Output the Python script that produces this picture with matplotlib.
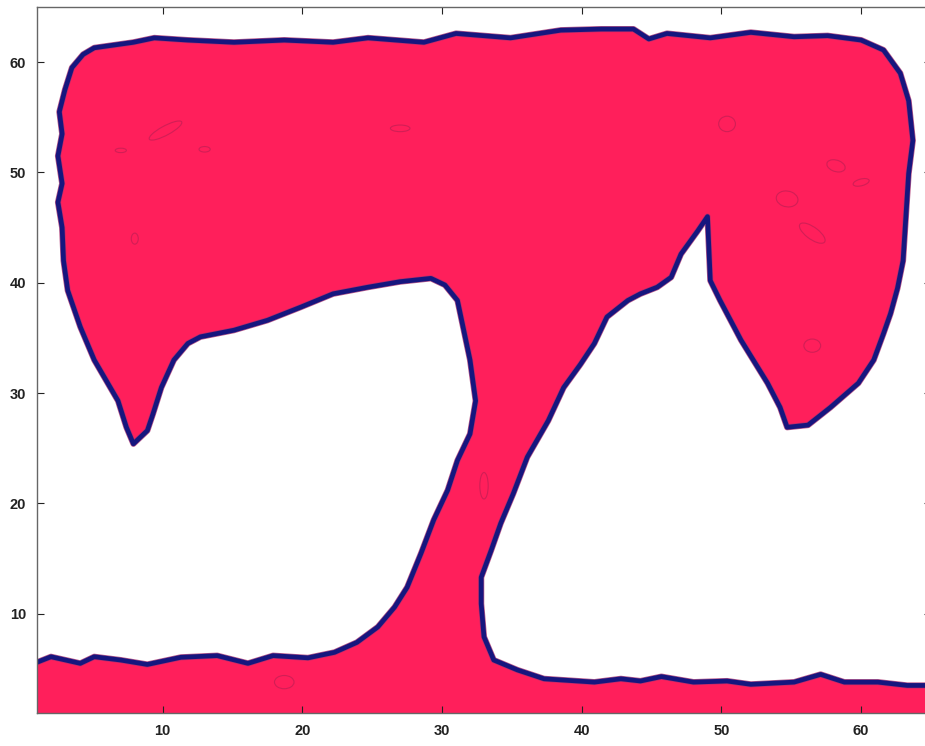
import matplotlib.pyplot as plt
from matplotlib.patches import Ellipse
import numpy as np

# boundary of the filled region (data units)
band_left_x = [1.0, 2.0, 4.1, 5.1, 7.0, 8.9, 11.3, 13.9, 16.1, 17.9, 20.4, 22.3, 23.9, 25.4,
               26.6, 27.5, 28.5, 29.4, 30.4, 31.1, 32.0, 32.4, 32.0, 31.5, 31.1, 30.2, 29.2]
band_left_y = [5.6, 6.1, 5.5, 6.1, 5.8, 5.4, 6.05, 6.2, 5.5, 6.2, 6.0, 6.5, 7.4, 8.8,
               10.6, 12.4, 15.5, 18.5, 21.2, 23.9, 26.3, 29.3, 33.0, 36.0, 38.4, 39.8, 40.4]

bar_under_x = [27.0, 24.7, 22.2, 19.9, 17.5, 15.1, 12.7, 11.8, 10.8, 9.9, 9.3, 8.9, 7.9,
               7.4, 6.8, 5.1, 4.1, 3.2, 2.9]
bar_under_y = [40.1, 39.6, 39.0, 37.8, 36.6, 35.7, 35.1, 34.5, 33.0, 30.5, 28.1, 26.6, 25.4,
               26.9, 29.3, 33.0, 36.0, 39.3, 42.0]

bar_top_x = [2.8, 2.5, 2.8, 2.5, 2.8, 2.6, 3.0, 3.5, 4.3, 5.1, 7.9, 9.4, 11.8, 15.1, 18.7,
             22.2, 24.7, 28.7, 31.0, 34.9, 38.5, 41.4, 43.7, 44.8, 46.1, 49.2, 52.1, 55.2,
             57.6, 60.0, 61.6, 62.8, 63.4, 63.7, 63.4, 63.2, 63.0, 62.6, 62.1, 61.6, 60.9,
             59.8, 57.8, 56.2, 54.7, 54.2, 53.3, 51.4, 49.9, 49.2, 49.1, 49.0, 48.3, 47.1,
             46.4, 45.4, 44.2, 43.3, 41.8, 40.9, 39.9]
bar_top_y = [45.0, 47.3, 49.0, 51.5, 53.5, 55.5, 57.5, 59.5, 60.7, 61.3, 61.8, 62.2, 62.0,
             61.8, 62.0, 61.8, 62.2, 61.8, 62.6, 62.2, 62.9, 63.0, 63.0, 62.1, 62.6, 62.2,
             62.7, 62.3, 62.4, 62.0, 61.1, 59.0, 56.5, 52.9, 49.9, 45.9, 42.0, 39.5, 37.2,
             35.4, 33.0, 30.9, 28.7, 27.1, 26.9, 28.7, 30.9, 34.8, 38.4, 40.2, 43.2, 46.0,
             44.7, 42.6, 40.5, 39.6, 39.0, 38.4, 36.9, 34.5, 32.6]

stem_right_x = [38.7, 37.6, 36.1, 35.1, 34.2, 33.5, 32.8, 32.8, 33.0, 33.7, 35.4, 37.3, 40.9,
                42.8, 44.2, 45.7, 48.0, 50.4, 52.1, 55.2, 57.1, 58.8, 61.2, 63.3, 65.0]
stem_right_y = [30.5, 27.5, 24.2, 20.9, 18.2, 15.7, 13.3, 10.9, 7.9, 5.8, 4.9, 4.1, 3.8,
                4.1, 3.9, 4.3, 3.8, 3.9, 3.6, 3.8, 4.5, 3.8, 3.8, 3.5, 3.5]

# small faint inner contours: centre x, centre y, width, height, angle
spot_x = [10.2, 27.0, 50.4, 54.7, 56.5, 58.2, 60.0, 18.7, 33.0, 56.5, 13.0, 7.0, 8.0]
spot_y = [53.8, 54.0, 54.4, 47.6, 44.5, 50.6, 49.1, 3.8, 21.6, 34.3, 52.1, 52.0, 44.0]
spot_w = [2.8, 1.4, 1.2, 1.6, 2.4, 1.0, 1.2, 1.4, 0.6, 1.2, 0.8, 0.8, 0.5]
spot_h = [0.8, 0.6, 1.4, 1.4, 1.0, 1.4, 0.6, 1.2, 2.4, 1.2, 0.5, 0.4, 1.0]
spot_a = [35, 0, 0, -30, -45, 60, 20, 0, 0, 0, 0, 0, 0]

xticks = [10, 20, 30, 40, 50, 60]
yticks = [10, 20, 30, 40, 50, 60]

fill_col = '#FF1F5B'
edge_col = '#16167E'

line_x = band_left_x + bar_under_x + bar_top_x + stem_right_x
line_y = band_left_y + bar_under_y + bar_top_y + stem_right_y
poly_x = [1.0] + line_x + [65.0, 1.0]
poly_y = [1.0] + line_y + [1.0, 1.0]

fig = plt.figure(figsize=(9.25, 7.46), dpi=100)
ax = fig.add_axes([37 / 925, 33 / 746, 894 / 925, 706 / 746])

ax.fill(poly_x, poly_y, color=fill_col, lw=0, zorder=1)
ax.plot(line_x, line_y, color='#A8306E', lw=4.4, solid_joinstyle='round',
        solid_capstyle='round', alpha=0.8, zorder=2)
ax.plot(line_x, line_y, color=edge_col, lw=3.4, solid_joinstyle='round',
        solid_capstyle='round', zorder=3)

for sx, sy, sw, sh, sa in zip(spot_x, spot_y, spot_w, spot_h, spot_a):
    ax.add_patch(Ellipse((sx, sy), sw, sh, angle=sa, fill=False,
                         edgecolor='#8E1E4E', lw=0.8, alpha=0.4, zorder=2))

ax.set_xlim(1, 65)
ax.set_ylim(1, 65)
ax.set_xticks(xticks)
ax.set_yticks(yticks)
ax.tick_params(direction='in', length=5, width=0.8, top=True, right=True,
               labelsize=10.5, colors='#222222', pad=8)
for lbl in ax.get_xticklabels() + ax.get_yticklabels():
    lbl.set_family('Liberation Sans')
    lbl.set_fontweight('bold')
for s in ax.spines.values():
    s.set_color('#666666')
    s.set_linewidth(1.0)
    s.set_zorder(5)

fig.savefig('out.png', dpi=100)
